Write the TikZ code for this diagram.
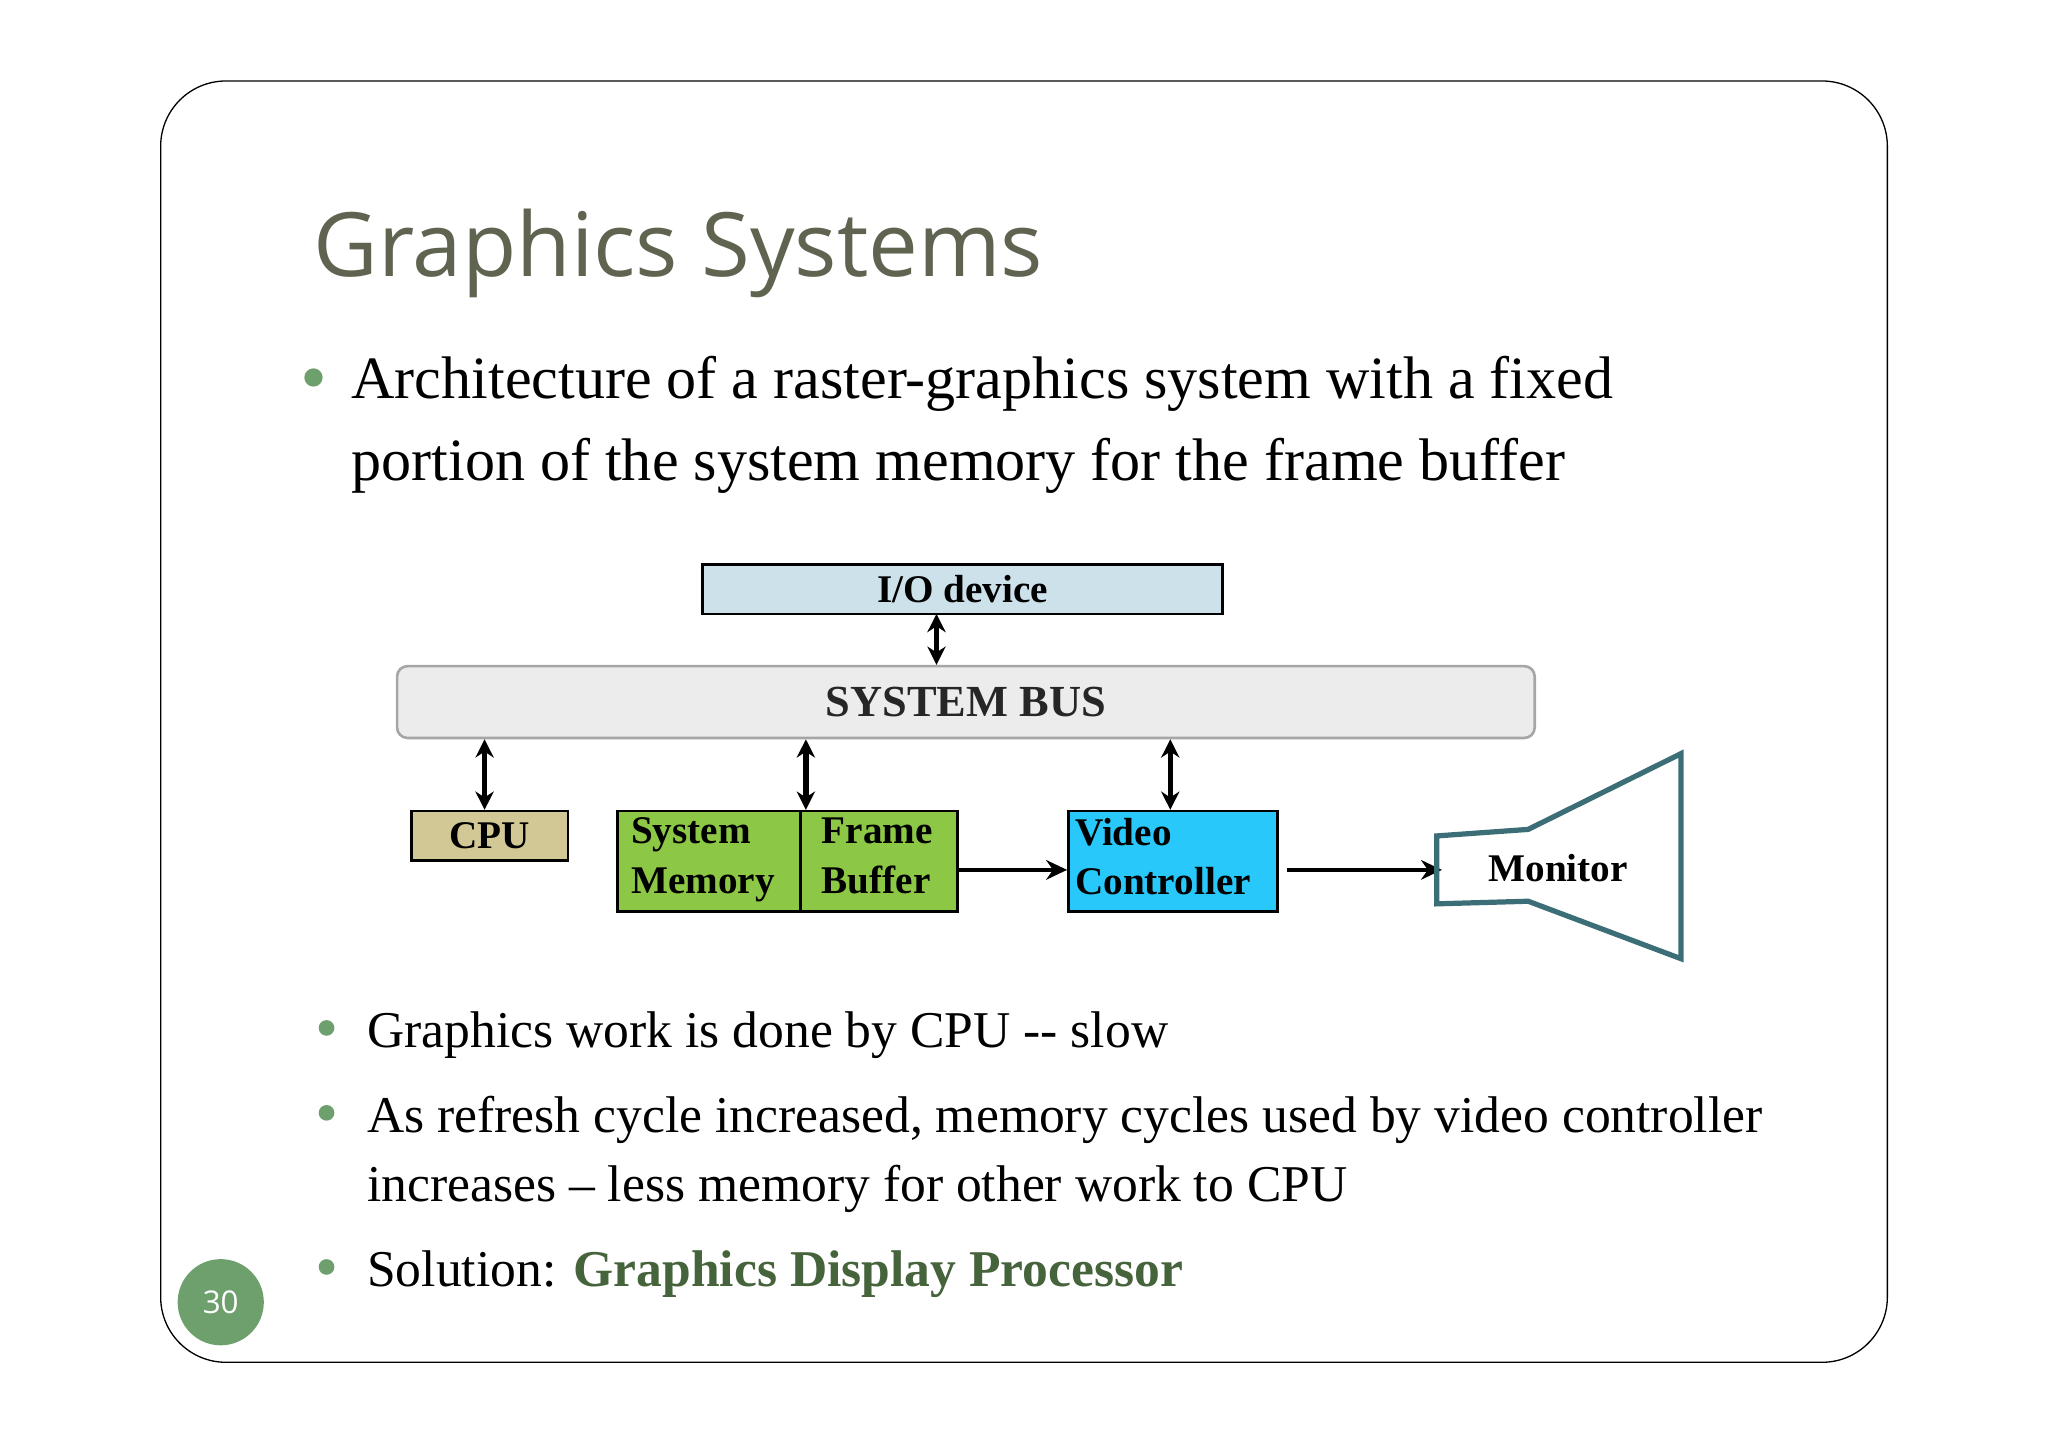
\documentclass[tikz,border=0pt]{standalone}
\usepackage{fontspec}
\setmainfont{Liberation Serif}
\newfontfamily\ttl{Open Sans}
\usetikzlibrary{arrows.meta}
\definecolor{bgreen}{RGB}{110,160,110}
\definecolor{ttlc}{RGB}{95,100,80}
\definecolor{dgreen}{RGB}{70,100,60}
\definecolor{iob}{RGB}{205,225,235}
\definecolor{busf}{RGB}{236,236,236}
\definecolor{cpuf}{RGB}{210,200,150}
\definecolor{memf}{RGB}{140,200,70}
\definecolor{vcf}{RGB}{40,200,250}
\definecolor{mon}{RGB}{60,110,120}
\begin{document}
\begin{tikzpicture}[x=1pt,y=-1pt,
  txt/.style={anchor=base west,inner sep=0pt,font=\fontsize{39.5}{44}\selectfont},
  box/.style={draw=black,line width=2pt,inner sep=0pt},
  lab/.style={font=\bfseries\fontsize{30}{38}\selectfont,align=left,inner sep=0pt},
  dbl/.style={{Stealth[length=14pt,width=14pt]}-{Stealth[length=14pt,width=14pt]},line width=4pt},
  sgl/.style={-{Stealth[length=16pt,width=15pt]},line width=3.5pt},
  dot/.style={circle,fill=bgreen,minimum size=14pt,inner sep=0pt}]
\useasboundingbox (0,0) rectangle (1568,1108);
\draw[line width=1pt,rounded corners=50pt] (123,62) rectangle (1445,1043);
\node[anchor=base west,inner sep=0pt,text=ttlc,font=\ttl\fontsize{68}{80}\selectfont] (title) at (240,212) {Graphics Systems};
\node[dot] (b1) at (240,289) {};
\node[txt,font=\fontsize{46}{50}\selectfont] (t1) at (269,305) {Architecture of a raster-graphics system with a fixed};
\node[txt,font=\fontsize{46}{50}\selectfont] (t2) at (269,368) {portion of the system memory for the frame buffer};
% diagram
\node[box,fill=iob,minimum width=398pt,minimum height=38pt,font=\bfseries\fontsize{30}{34}\selectfont] (io) at (737,451) {I/O device};
\node[draw=gray!70,line width=2pt,fill=busf,rounded corners=8pt,minimum width=871pt,minimum height=55pt,font=\bfseries\fontsize{34}{38}\selectfont,text=black!85] (bus) at (739.5,537.5) {SYSTEM BUS};
\node[box,fill=cpuf,minimum width=120pt,minimum height=38pt,font=\bfseries\fontsize{30}{34}\selectfont] (cpu) at (375,640) {CPU};
\node[box,fill=memf,minimum width=140pt,minimum height=77pt] (sm) at (543,659.5) {};
\node[box,fill=memf,minimum width=120pt,minimum height=77pt] (fb) at (673,659.5) {};
\node[box,fill=vcf,minimum width=160pt,minimum height=77pt] (vc) at (898,659.5) {};
\node[lab,anchor=north west] (smt) at (483,626) {System\\Memory};
\node[lab,anchor=north west] (fbt) at (629,626) {Frame\\Buffer};
\node[lab,anchor=north west] (vct) at (823,626) {Video\\Controller};
\draw[dbl] (717,470) coordinate (c0) -- (c0 |- bus.north);
\draw[dbl] (371,620) coordinate (c1) -- (c1 |- bus.south);
\draw[dbl] (617,620) coordinate (c2) -- (c2 |- bus.south);
\draw[dbl] (896,620) coordinate (c3) -- (c3 |- bus.south);
\coordinate (mstart) at (985,666);
\coordinate (min) at (1104,666);
\draw[sgl] (fb.east |- 0,666) -- (vc.west |- 0,666);
\draw[sgl] (mstart) -- (min);
\draw[mon,line width=4pt,line join=miter] (1100,640) -- (1170,635) -- (1287,577) -- (1287,734) -- (1170,690) -- (1100,692) -- cycle;
\node[font=\bfseries\fontsize{30}{34}\selectfont] (mt) at (1193,665) {Monitor};
% bullets
\node[dot,minimum size=12pt] (d1) at (250,787) {};
\node[txt] (u1) at (281,802) {Graphics work is done by CPU -{}- slow};
\node[dot,minimum size=12pt] (d2) at (250,852) {};
\node[txt] (u2) at (281,867) {As refresh cycle increased, memory cycles used by video controller};
\node[txt] (u3) at (281,920) {increases -- less memory for other work to CPU};
\node[dot,minimum size=12pt] (d3) at (250,970) {};
\node[txt] (u4) at (281,985) {Solution: \textcolor{dgreen}{\bfseries Graphics Display Processor}};
\node[circle,fill=bgreen,minimum size=66pt,inner sep=0pt,text=white,font=\ttl\fontsize{24}{28}\selectfont] (pn) at (169,997) {30};
\end{tikzpicture}
\end{document}
